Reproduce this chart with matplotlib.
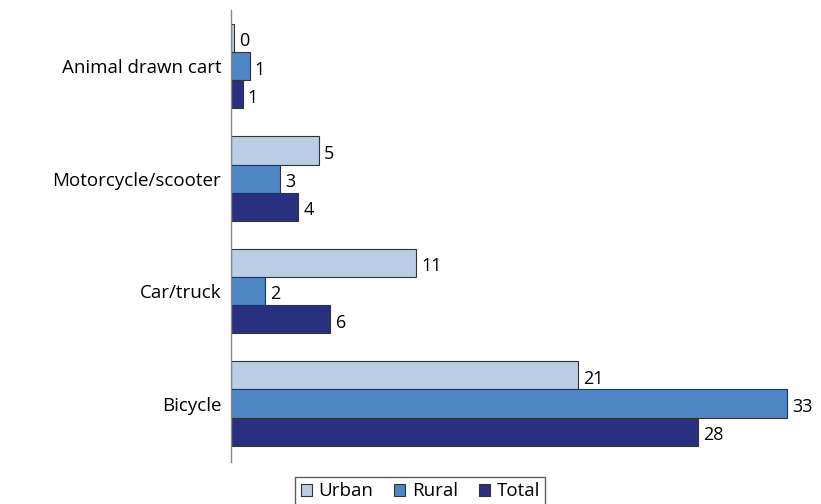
import numpy as np
import matplotlib.pyplot as plt
from matplotlib.patches import Patch

# data (labels shown rounded)
categories = ['Bicycle', 'Car/truck', 'Motorcycle/scooter', 'Animal drawn cart']
urban = [20.6, 11.0, 5.2, 0.2]
rural = [33.0, 2.0, 2.9, 1.1]
total = [27.7, 5.9, 4.0, 0.7]
series = ['Urban', 'Rural', 'Total']
colors = ['#b9cde5', '#4f86c6', '#2a2f7f']

plt.rcParams['font.family'] = ['Open Sans', 'DejaVu Sans']

fig = plt.figure(figsize=(8.21, 5.04), dpi=100)
ax = fig.add_axes([231/821, 42/504, 590/821, 452/504])

y = np.arange(len(categories))
h = 0.25
offs = [h, 0, -h]
for vals, off, c in zip([urban, rural, total], offs, colors):
    bars = ax.barh(y + off, vals, height=h, color=c, edgecolor='#333333', linewidth=0.8)
    for b, v in zip(bars, vals):
        ax.text(v + 0.3, b.get_y() + h/2 - 0.03, f'{v:.0f}', va='center', ha='left', fontsize=13)

ax.set_xlim(0, 35)
ax.set_ylim(-0.52, 3.5)
ax.set_yticks(y)
ax.set_yticklabels(categories, fontsize=13.5)
ax.tick_params(axis='y', length=0, pad=7)
ax.set_xticks([])
for s in ['top', 'right', 'bottom']:
    ax.spines[s].set_visible(False)
ax.spines['left'].set_color('#888888')
ax.spines['left'].set_linewidth(1)

handles = [Patch(facecolor=c, edgecolor='#333333', linewidth=0.8) for c in colors]
fig.legend(handles, series, loc='lower center', bbox_to_anchor=(0.512, -0.004), ncol=3,
           frameon=True, fancybox=False, edgecolor='#333333', fontsize=13.5,
           handlelength=0.6, handleheight=0.6, handletextpad=0.35, columnspacing=1.1,
           borderpad=0.3, borderaxespad=0)

fig.savefig('out.png', dpi=100)
